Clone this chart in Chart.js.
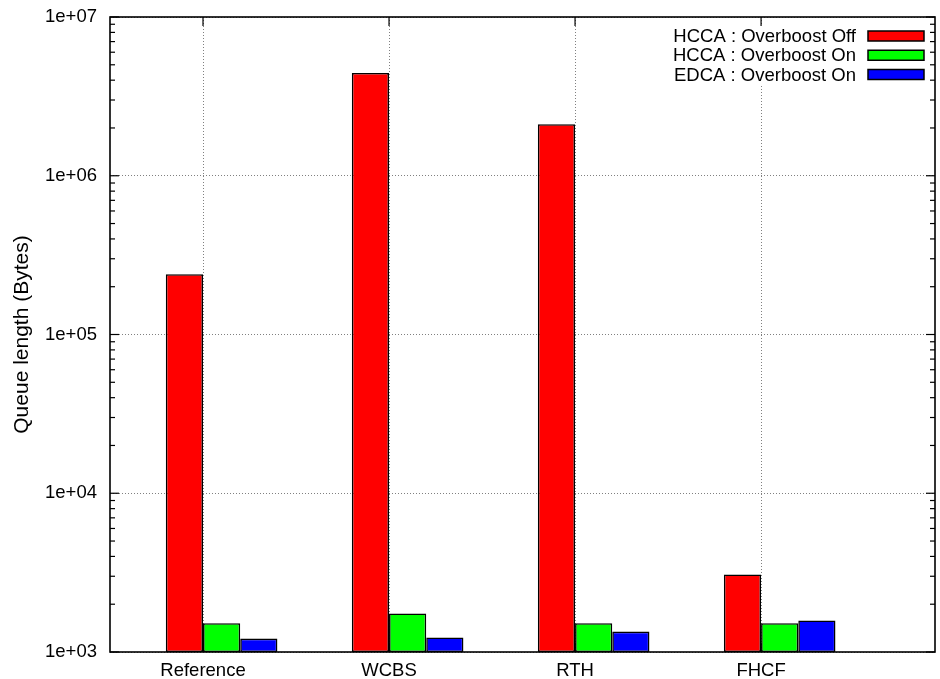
<!DOCTYPE html>
<html lang="en">
<head>
<meta charset="UTF-8">
<title>Queue length</title>
<script src="https://cdn.jsdelivr.net/npm/chart.js"></script>
<style>
    html, body { margin: 0; padding: 0; background: #fff; }
    canvas { display: block; }
</style>
</head>
<body>
<canvas id="queueChart" width="940" height="679"></canvas>

<script>
const categories = ['Reference', 'WCBS', 'RTH', 'FHCF'];
const hccaOff = [240000, 4440000, 2110000, 3080];
const hccaOn = [1520, 1750, 1520, 1520];
const edcaOn = [1215, 1235, 1345, 1580];
const seriesLabels = ['HCCA : Overboost Off', 'HCCA : Overboost On', 'EDCA : Overboost On'];
const seriesColors = ['#ff0000', '#00ff00', '#0000ff'];
const yTickValues = [1e3, 1e4, 1e5, 1e6, 1e7];
const yTickLabels = ['1e+03', '1e+04', '1e+05', '1e+06', '1e+07'];

const FONT = '"Liberation Sans", Arial, sans-serif';
Chart.defaults.font.family = FONT;
Chart.defaults.font.size = 18.5;
Chart.defaults.color = '#000';

function toPoints(values) {
    return values.map((v, i) => ({ x: i, y: v }));
}

function line(ctx, x1, y1, x2, y2) {
    ctx.beginPath();
    ctx.moveTo(x1, y1);
    ctx.lineTo(x2, y2);
    ctx.stroke();
}

// frame, inward tick marks and the key, gnuplot style
const gnuplotLook = {
    id: 'gnuplotLook',
    afterDatasetsDraw(chart) {
        const { ctx, chartArea: a } = chart;
        const xs = chart.scales.x, ys = chart.scales.y;
        ctx.save();
        ctx.strokeStyle = '#000';
        ctx.lineWidth = 1.2;
        ys.ticks.forEach(t => {
            const p = ys.getPixelForValue(t.value);
            line(ctx, a.left, p, a.left + 9, p);
            line(ctx, a.right, p, a.right - 9, p);
        });
        for (let e = 3; e < 7; e++) {
            for (let m = 2; m < 10; m++) {
                const p = ys.getPixelForValue(m * Math.pow(10, e));
                line(ctx, a.left, p, a.left + 5, p);
                line(ctx, a.right, p, a.right - 5, p);
            }
        }
        xs.ticks.forEach(t => {
            const p = xs.getPixelForValue(t.value);
            line(ctx, p, a.bottom, p, a.bottom - 9);
            line(ctx, p, a.top, p, a.top + 9);
        });
        ctx.lineWidth = 1.6;
        ctx.strokeRect(a.left, a.top, a.right - a.left, a.bottom - a.top);
        ctx.restore();
    },
    afterDraw(chart) {
        const { ctx, chartArea: a } = chart;
        const boxRight = a.right - 11, boxW = 56, boxH = 10, rowH = 19.25;
        const textRight = boxRight - boxW - 12;
        ctx.save();
        ctx.font = '18.5px ' + FONT;
        const maxW = Math.max(...chart.data.datasets.map(d => ctx.measureText(d.label).width));
        const bgLeft = textRight - maxW - 4;
        ctx.fillStyle = '#fff';
        ctx.fillRect(bgLeft, a.top + 9, boxRight + 4 - bgLeft, rowH * 3 + 2);
        chart.data.datasets.forEach((d, i) => {
            const cy = a.top + 19 + i * rowH;
            ctx.fillStyle = '#000';
            ctx.textAlign = 'right';
            ctx.textBaseline = 'middle';
            ctx.fillText(d.label, textRight, cy + 1);
            ctx.fillStyle = d.backgroundColor;
            ctx.fillRect(boxRight - boxW, cy - boxH / 2, boxW, boxH);
            ctx.lineWidth = 1.5;
            ctx.strokeStyle = '#000';
            ctx.strokeRect(boxRight - boxW, cy - boxH / 2, boxW, boxH);
        });
        ctx.restore();
    }
};

const ctx = document.getElementById('queueChart').getContext('2d');
const chart = new Chart(ctx, {
    type: 'bar',
    data: {
        datasets: [hccaOff, hccaOn, edcaOn].map((vals, i) => ({
            label: seriesLabels[i],
            data: toPoints(vals),
            backgroundColor: seriesColors[i],
            borderColor: '#000',
            borderWidth: 1.6,
            borderSkipped: false,
            categoryPercentage: 0.6,
            barPercentage: 1.0
        }))
    },
    options: {
        responsive: false,
        animation: false,
        layout: { padding: { top: 17, right: 5, left: 0, bottom: 0 } },
        plugins: {
            legend: { display: false },
            tooltip: { enabled: false }
        },
        scales: {
            x: {
                type: 'linear',
                min: -0.6,
                max: 3.835,
                offset: false,
                afterBuildTicks: s => { s.ticks = categories.map((c, i) => ({ value: i - 0.1 })); },
                afterFit: s => { s.height = 27; },
                ticks: {
                    callback: (v, i) => categories[i],
                    padding: 8,
                    maxRotation: 0,
                    autoSkip: false
                },
                grid: { offset: false, color: '#808080', drawTicks: false, lineWidth: 1 },
                border: { display: false, dash: [1, 2] }
            },
            y: {
                type: 'logarithmic',
                min: 1000,
                max: 1e7,
                afterBuildTicks: s => { s.ticks = yTickValues.map(v => ({ value: v, major: true })); },
                afterFit: s => { s.width = 110; },
                ticks: {
                    callback: (v, i) => yTickLabels[i],
                    padding: 0,
                    autoSkip: false
                },
                grid: {
                    color: '#808080',
                    drawTicks: true,
                    tickLength: 13,
                    tickColor: 'rgba(0,0,0,0)',
                    lineWidth: 1
                },
                border: { display: false, dash: [1, 2] },
                title: {
                    display: true,
                    text: 'Queue length (Bytes)',
                    font: { size: 21 },
                    padding: { top: 10, bottom: 0 }
                }
            }
        }
    },
    plugins: [gnuplotLook]
});
</script>
</body>
</html>
